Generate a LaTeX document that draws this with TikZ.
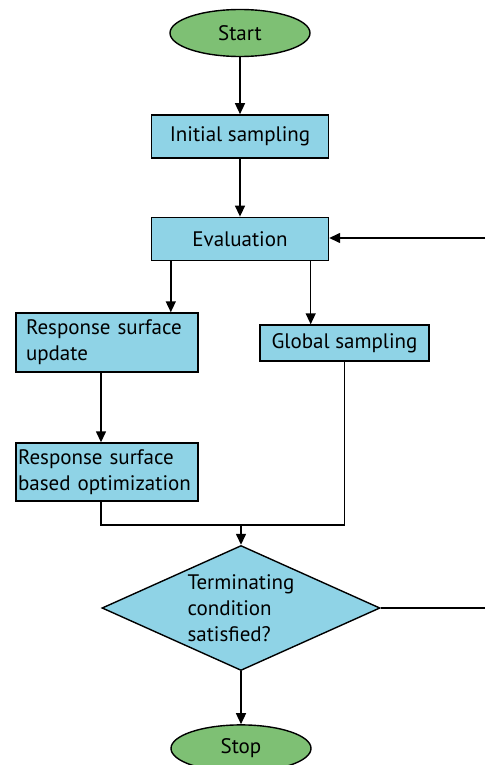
\documentclass[tikz,border=0pt]{standalone}
\usepackage{fontspec}
\setmainfont{PT Sans}
\usetikzlibrary{positioning, arrows.meta, shapes.geometric}
\definecolor{termgreen}{RGB}{126,192,116}
\definecolor{stepblue}{RGB}{143,211,230}
\tikzset{
    x=1pt, y=1pt, % one unit is one pixel of the layout
    >={Triangle[width=10pt,length=11pt]}, % filled arrow heads
    every node/.style={font=\fontsize{21}{26}\selectfont},
    terminal/.style={ellipse, draw, fill=termgreen, minimum width=140pt, minimum height=47pt, inner sep=0pt}, % start and stop
    process/.style={rectangle, draw, fill=stepblue, minimum height=43pt, inner sep=0pt}, % ordinary steps
    decision/.style={diamond, draw, fill=stepblue, aspect=2.2, inner sep=0pt, minimum width=278pt, minimum height=125pt, align=left}, % the test
}
\begin{document}
\begin{tikzpicture}[line width=1.4pt]

    \useasboundingbox (0,0) rectangle (485,-765);

    \node[terminal] (start) at (240,-33) {Start};
    \node[process, minimum width=177pt, below=57pt of start] (init) {Initial sampling};
    \node[process, minimum width=177pt, below=58pt of init] (eval) {Evaluation};
    \node[process, minimum width=182pt, minimum height=59pt, text width=162pt, align=left] (rsu) at (107,-342.5) {Response surface\\update};
    \node[process, minimum width=169pt, minimum height=36pt] (glob) at (344.5,-343) {Global sampling};
    \node[process, minimum width=182pt, minimum height=58pt, text width=178pt, align=left] (rsbo) at (107,-472) {Response surface\\based optimization};
    \node[decision] (dec) at (241,-608) {Terminating\\condition\\satisfied?};
    \node[terminal, below=53pt of dec] (stop) {Stop};

    \coordinate (merge) at (241,-525);
    \coordinate (loopin) at (485,-238);
    \coordinate (loopout) at (485,-608);

    \draw[->] (start) -- (init);
    \draw[->] (init) -- (eval);
    \draw[->] ([xshift=20pt]eval.south west) -- ([xshift=20pt]eval.south west |- rsu.north);
    \draw[->] ([xshift=-18.5pt]eval.south east) -- ([xshift=-18.5pt]eval.south east |- glob.north);
    \draw[->] ([xshift=-6pt]rsu.south) -- ([xshift=-6pt]rsbo.north);
    \draw ([xshift=-6pt]rsbo.south) |- (merge);
    \draw (glob.south) |- (merge);
    \draw[->] (merge) -- (dec.north);
    \draw[->] (dec) -- (stop);
    \draw (dec.east) -- (loopout);
    \draw[->] (loopin) -- (loopin -| eval.east);

\end{tikzpicture}
\end{document}
